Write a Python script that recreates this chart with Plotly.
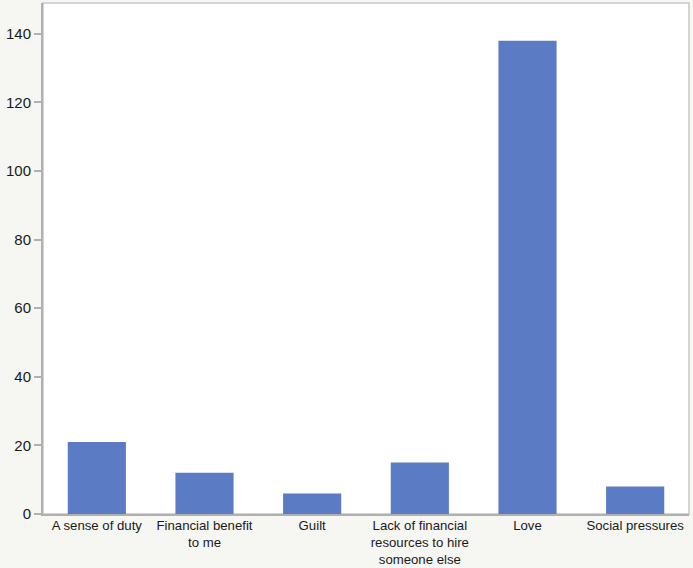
import plotly.graph_objects as go

categories = [
    "A sense of duty",
    "Financial benefit<br>to me",
    "Guilt",
    "Lack of financial<br>resources to hire<br>someone else",
    "Love",
    "Social pressures",
]
counts = [21, 12, 6, 15, 138, 8]
y_ticks = [0, 20, 40, 60, 80, 100, 120, 140]

fig = go.Figure(go.Bar(
    x=categories,
    y=counts,
    marker_color='#5b7bc4',
    marker_line_width=0,
    width=0.54,
))

fig.update_layout(
    width=693,
    height=568,
    margin=dict(l=43, r=4, t=3, b=54, autoexpand=False),
    paper_bgcolor='#f6f6f2',
    plot_bgcolor='white',
    font=dict(family='Liberation Sans, Arial, sans-serif', color='#1a1a1a'),
    showlegend=False,
)

fig.update_xaxes(
    automargin=False,
    showline=True, linecolor='#b0b0b0', linewidth=2, mirror=False,
    ticks='', tickfont=dict(size=13.2), showgrid=False,
    ticklabelstandoff=-2,
)
fig.update_yaxes(
    automargin=False,
    range=[0, 149], tickvals=y_ticks, showgrid=False, zeroline=False,
    showline=True, linecolor='#b0b0b0', linewidth=2,
    ticks='outside', ticklen=7, tickcolor='#b0b0b0', tickwidth=1.5,
    tickfont=dict(size=15),
)

# thin border on top and right
fig.add_shape(type='rect', xref='paper', yref='paper', x0=0, y0=0, x1=1, y1=1,
              line=dict(color='#c8c8c8', width=1.5), layer='below')

# drop the default page margin so the figure sits at the window corner
fig.write_html("out.html", config={'displayModeBar': False},
               post_script="document.body.style.margin='0';")
